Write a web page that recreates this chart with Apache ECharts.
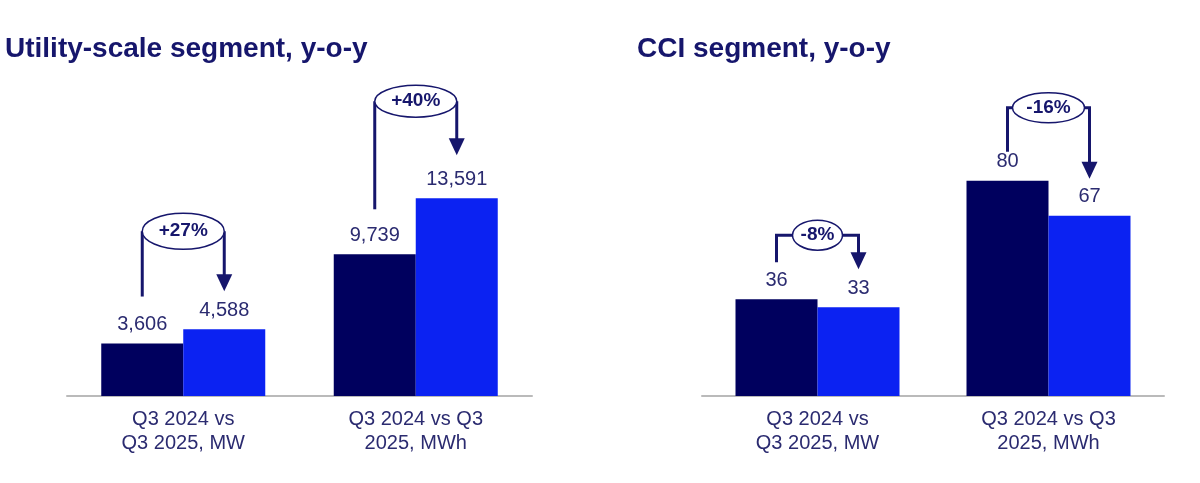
<!DOCTYPE html>
<html>
<head>
<meta charset="utf-8">
<style>
  html, body { margin: 0; padding: 0; background: #ffffff; }
  #chart { width: 1200px; height: 483px; }
</style>
<script src="https://cdn.jsdelivr.net/npm/echarts@6/dist/echarts.min.js"></script>
</head>
<body>
<div id="chart"></div>
<script>
// chart data
var categories     = ['Q3 2024 vs\nQ3 2025, MW', 'Q3 2024 vs Q3\n2025, MWh'];
var panelTitles    = ['Utility-scale segment, y-o-y', 'CCI segment, y-o-y'];
var utility2024    = [3606, 9739];
var utility2025    = [4588, 13591];
var cci2024        = [36, 80];
var cci2025        = [33, 67];
var utilityChange  = ['+27%', '+40%'];
var cciChange      = ['-8%', '-16%'];

// look
var darkColor  = '#00005e';
var blueColor  = '#0b22f2';
var inkColor   = '#16166c';
var labelColor = '#2b2b70';
var fontFam    = '"Liberation Sans", Arial, sans-serif';
var barWidth   = 82;

// bracket geometry per annotation, pixels: [startGap, tipGap, level, rx, ry]
var bracketStyle = [
    [[47, 38, 98, 41, 18], [45, 43, 97, 41, 16]],
    [[37, 38, 64, 25, 15], [29, 37, 73, 36, 15]]
];

function fmt(v){
    return v.toLocaleString('en-US');
}

function barSeries(name, data, color, idx){
    return {
        name: name,
        type: 'bar',
        xAxisIndex: idx,
        yAxisIndex: idx,
        data: data,
        barWidth: barWidth,
        barGap: '0%',
        itemStyle: {color: color},
        label: {
            show: true,
            position: 'top',
            distance: 9,
            color: labelColor,
            fontSize: 20,
            fontFamily: fontFam,
            formatter: function(p){ return fmt(p.value); }
        }
    };
}

function xAxisFor(idx){
    return {
        type: 'category',
        gridIndex: idx,
        data: categories,
        axisTick: {show: false},
        axisLine: {lineStyle: {color: '#bababa', width: 2}},
        axisLabel: {
            color: labelColor,
            fontSize: 20,
            fontFamily: fontFam,
            lineHeight: 24,
            margin: 11,
            interval: 0
        }
    };
}

function yAxisFor(idx, max){
    return {
        type: 'value',
        gridIndex: idx,
        min: 0,
        max: max,
        show: false,
        splitLine: {show: false}
    };
}

var chart = echarts.init(document.getElementById('chart'));

var option = {
    backgroundColor: '#ffffff',
    animation: false,
    title: [
        {text: panelTitles[0], left: 0, top: 30,
         textStyle: {color: inkColor, fontSize: 28, fontWeight: 'bold', fontFamily: fontFam}},
        {text: panelTitles[1], left: 632, top: 30,
         textStyle: {color: inkColor, fontSize: 28, fontWeight: 'bold', fontFamily: fontFam}}
    ],
    grid: [
        {left: 67, width: 465, top: 105, height: 291},
        {left: 702, width: 462, top: 127, height: 269}
    ],
    xAxis: [xAxisFor(0), xAxisFor(1)],
    yAxis: [yAxisFor(0, 20000), yAxisFor(1, 100)],
    series: [
        barSeries('Q3 2024', utility2024, darkColor, 0),
        barSeries('Q3 2025', utility2025, blueColor, 0),
        barSeries('Q3 2024', cci2024, darkColor, 1),
        barSeries('Q3 2025', cci2025, blueColor, 1)
    ]
};

chart.setOption(option);

// change brackets, placed from the axes' own pixel conversion
var panels = [
    {before: utility2024, after: utility2025, change: utilityChange},
    {before: cci2024, after: cci2025, change: cciChange}
];
var elements = [];

panels.forEach(function(panel, pi){
    categories.forEach(function(cat, ci){
        var finder = {xAxisIndex: pi, yAxisIndex: pi};
        var pA = chart.convertToPixel(finder, [ci, panel.before[ci]]);
        var pB = chart.convertToPixel(finder, [ci, panel.after[ci]]);
        var g = bracketStyle[pi][ci];
        var xA = pA[0] - barWidth / 2;
        var xB = pB[0] + barWidth / 2;
        var cx = (xA + xB) / 2;
        var level = Math.min(pA[1], pB[1]) - g[2];
        var yStart = pA[1] - g[0];
        var yTip = pB[1] - g[1];
        var rx = g[3], ry = g[4];
        var head = 17;

        elements.push({
            type: 'polyline', z: 100,
            shape: {points: [[xA, yStart], [xA, level], [cx - rx, level]]},
            style: {stroke: inkColor, lineWidth: 3, fill: null}
        });
        elements.push({
            type: 'polyline', z: 100,
            shape: {points: [[cx + rx, level], [xB, level], [xB, yTip - head + 1]]},
            style: {stroke: inkColor, lineWidth: 3, fill: null}
        });
        elements.push({
            type: 'polygon', z: 100,
            shape: {points: [[xB - 8, yTip - head], [xB + 8, yTip - head], [xB, yTip]]},
            style: {fill: inkColor}
        });
        elements.push({
            type: 'ellipse', z: 101,
            shape: {cx: cx, cy: level, rx: rx, ry: ry},
            style: {fill: '#ffffff', stroke: inkColor, lineWidth: 1.5}
        });
        elements.push({
            type: 'text', z: 102,
            style: {
                text: panel.change[ci],
                x: cx, y: level,
                align: 'center', verticalAlign: 'middle',
                fill: inkColor,
                fontSize: 19, fontWeight: 'bold', fontFamily: fontFam
            }
        });
    });
});

chart.setOption({graphic: elements});
</script>
</body>
</html>
